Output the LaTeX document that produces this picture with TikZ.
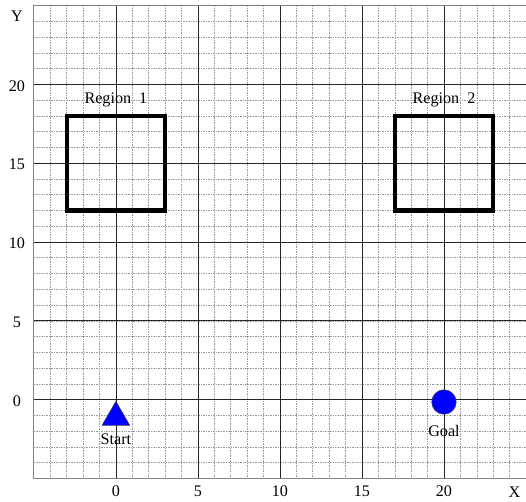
\documentclass[tikz,border=0pt]{standalone}
\usepackage{fontspec}
\setmainfont{Liberation Serif}
\usetikzlibrary{shapes.geometric}
\begin{document}
\begin{tikzpicture}[
  x=0.5cm,y=0.4805cm,
  minor/.style={gray!80, densely dotted, line width=0.45pt},
  major/.style={black!85, line width=0.6pt},
  region/.style={draw, line width=3.6pt},
  lbl/.style={font=\fontsize{14}{16}\selectfont, inner sep=1pt},
  marker/.style={fill=blue, draw=black!70, inner sep=0pt}
]
\useasboundingbox (-7.065,-6.46) rectangle (25,25.35);

% grid
\foreach \i in {-4,...,24} \draw[minor] (\i,-5) -- (\i,25);
\foreach \j in {-4,...,24} \draw[minor] (-5,\j) -- (25,\j);
\foreach \i in {0,5,...,20} \draw[major] (\i,-5) -- (\i,25);
\foreach \j in {0,5,...,20} \draw[major] (-5,\j) -- (25,\j);
\draw[gray, line width=1pt] (25,25) -- (-5,25) -- (-5,-5) -- (25,-5);

% tick labels
\foreach \i in {0,5,...,20} \node[lbl] (xt\i) at (\i,-5.83) {\i};
\foreach \j in {0,5,...,20} \node[lbl] (yt\j) at (-6.03,\j-0.1) {\j};
\node[lbl] (xname) at (24.3,-5.9) {X};
\node[lbl] (yname) at (-6.03,24.3) {Y};

% regions
\draw[region] (-3,12) rectangle (3,18);
\draw[region] (17,12) rectangle (23,18);
\node[lbl] (r1) at (0,19) {Region~~1};
\node[lbl] (r2) at (20,19) {Region~~2};

% start and goal
\node[marker, regular polygon, regular polygon sides=3, minimum size=0.98cm] (start) at (0,-1.12) {};
\node[lbl] (startlbl) at (0,-2.5) {Start};
\node[marker, circle, minimum size=0.75cm] (goal) at (20,-0.15) {};
\node[lbl] (goallbl) at (20,-2.0) {Goal};
\end{tikzpicture}
\end{document}
